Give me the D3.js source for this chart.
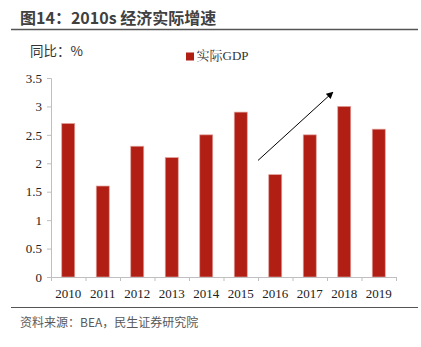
<!DOCTYPE html>
<html><head><meta charset="utf-8">
<script src="https://cdn.jsdelivr.net/npm/d3@7/dist/d3.min.js"></script>
<style>body{margin:0;background:#fff}svg{display:block}</style>
</head><body>
<script>
const years = ['2010','2011','2012','2013','2014','2015','2016','2017','2018','2019'];
const realGDP = [2.7, 1.6, 2.3, 2.1, 2.5, 2.9, 1.8, 2.5, 3.0, 2.6];
const yTicks = [0, 0.5, 1, 1.5, 2, 2.5, 3, 3.5];
const yTickLabels = ['0','0.5','1','1.5','2','2.5','3','3.5'];
const seriesName = '实际GDP';
const titleText = '图14：2010s 经济实际增速';
const unitText = '同比：%';
const sourceText = '资料来源：BEA，民生证券研究院';
// arrow annotation in data space: [category, offset within band, value]
const arrowFrom = ['2016', 0.0, 2.05];
const arrowTo = ['2018', 0.17, 3.25];

const W = 421, H = 347;
const svg = d3.select('body').append('svg').attr('width', W).attr('height', H);
const defs = svg.append('defs');
defs.append('marker').attr('id','ah').attr('viewBox','0 0 10 10').attr('refX',9).attr('refY',5)
  .attr('markerWidth',7).attr('markerHeight',7).attr('orient','auto').attr('markerUnits','userSpaceOnUse')
  .append('path').attr('d','M0,0 L10,5 L0,10 z').attr('fill','#000');

// title
svg.append('text').attr('x',20).attr('y',24).text(titleText)
  .attr('font-family','"Noto Sans CJK SC", "Noto Sans", sans-serif').attr('font-weight','bold')
  .attr('font-size',16).attr('fill','#404040');
svg.append('line').attr('x1',11).attr('x2',418).attr('y1',29.5).attr('y2',29.5)
  .attr('stroke','#555').attr('stroke-width',1.5);

const x = d3.scaleBand().domain(years).range([51, 396]).paddingInner(0).paddingOuter(0);
const y = d3.scaleLinear().domain([0, 3.5]).range([277, 78]);

// y axis
const yAxis = svg.append('g').attr('transform','translate(51,0)')
  .call(d3.axisLeft(y).tickValues(yTicks).tickFormat((d,i)=>yTickLabels[i]).tickSize(4).tickPadding(5));
yAxis.select('.domain').attr('stroke','#bfbfbf');
yAxis.selectAll('.tick line').attr('stroke','#bfbfbf');
yAxis.selectAll('text').attr('font-family','"Liberation Serif", serif').attr('font-size',13).attr('fill','#222');

// bars
svg.append('g').selectAll('rect').data(years).join('rect')
  .attr('x', d => x(d) + x.bandwidth()/2 - 6.5)
  .attr('width', 13)
  .attr('y', (d,i) => y(realGDP[i]))
  .attr('height', (d,i) => y(0) - y(realGDP[i]))
  .attr('fill','#B01E14').attr('stroke','#e0a09a').attr('stroke-width',0.7);

// x axis
const xAxis = svg.append('g').attr('transform','translate(0,277)')
  .call(d3.axisBottom(x).tickSize(0).tickPadding(12));
xAxis.select('.domain').attr('stroke','#bfbfbf');
xAxis.selectAll('text').attr('font-family','"Liberation Serif", serif').attr('font-size',13).attr('fill','#222');
// category boundary ticks
const bounds = years.map(d => x(d)).concat([x(years[years.length-1]) + x.bandwidth()]);
svg.append('g').selectAll('line').data(bounds).join('line')
  .attr('x1', d=>d+0.5).attr('x2', d=>d+0.5).attr('y1',277).attr('y2',281)
  .attr('stroke','#bfbfbf');

// unit label
svg.append('text').attr('x',30).attr('y',56).text(unitText)
  .attr('font-family','"Noto Sans CJK SC", sans-serif').attr('font-size',13.5).attr('fill','#333');

// legend
svg.append('rect').attr('x',186).attr('y',52.5).attr('width',8).attr('height',8).attr('fill','#B01E14');
svg.append('text').attr('x',196.5).attr('y',60).text(seriesName)
  .attr('font-family','"Liberation Serif", "Noto Serif CJK SC", serif').attr('font-size',13).attr('fill','#333');

// arrow
const ax = a => x(a[0]) + a[1]*x.bandwidth();
svg.append('line').attr('x1', ax(arrowFrom)).attr('y1', y(arrowFrom[2]))
  .attr('x2', ax(arrowTo)).attr('y2', y(arrowTo[2]))
  .attr('stroke','#000').attr('stroke-width',1).attr('marker-end','url(#ah)');

// footer
svg.append('line').attr('x1',11).attr('x2',418).attr('y1',307.5).attr('y2',307.5)
  .attr('stroke','#555').attr('stroke-width',1.2);
svg.append('text').attr('x',20).attr('y',327).text(sourceText)
  .attr('font-family','"Noto Sans CJK SC", sans-serif').attr('font-size',12).attr('fill','#595959');
</script>
</body></html>
